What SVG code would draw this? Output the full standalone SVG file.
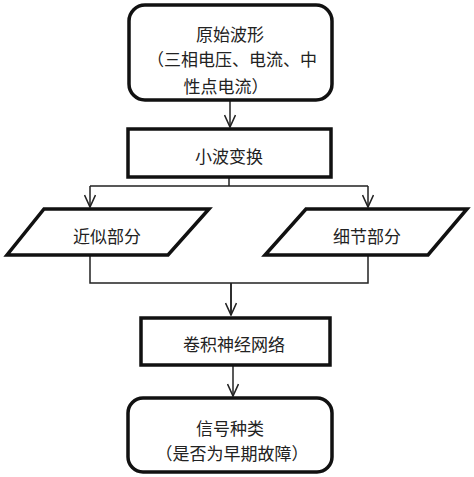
<svg xmlns="http://www.w3.org/2000/svg" width="474" height="477" viewBox="0 0 474 477">
<style>
.box{fill:#fff;stroke:#111;stroke-width:3.5}
.t{font-family:"Noto Sans CJK SC","Noto Sans",sans-serif;font-size:17px;fill:#222;text-anchor:middle;dominant-baseline:central}
.c{fill:none;stroke:#222;stroke-width:1.5}
</style>
<defs>
<marker id="ah" viewBox="0 0 14 12" refX="13" refY="6" markerWidth="14" markerHeight="12" markerUnits="userSpaceOnUse" orient="auto">
<path d="M1,0.5 L13,6 L1,11.5" fill="none" stroke="#222" stroke-width="1.6"/>
</marker>
</defs>
<rect width="474" height="477" fill="#fff"/>
<g id="connectors">
<path class="c" d="M230,101 V127" marker-end="url(#ah)"/>
<path class="c" d="M229,178 V186 M90,186 H368"/>
<path class="c" d="M90,186 V207" marker-end="url(#ah)"/>
<path class="c" d="M368,186 V207" marker-end="url(#ah)"/>
<path class="c" d="M90,256 V283 H368 V256 M231,283 V315"/>
<path class="c" d="M231,283 V315" marker-end="url(#ah)"/>
<path class="c" d="M233,366 V396" marker-end="url(#ah)"/>
</g>
<g id="n1">
<rect class="box" x="129" y="5" width="203" height="95" rx="16"/>
<text class="t" x="230" y="33">原始波形</text>
<text class="t" x="232" y="58">（三相电压、电流、中</text>
<text class="t" x="226" y="85">性点电流）</text>
</g>
<g id="n2">
<rect class="box" x="128" y="129" width="203" height="48"/>
<text class="t" x="229" y="155">小波变换</text>
</g>
<g id="n3">
<polygon class="box" points="44,209 209,209 168,255 7,255"/>
<text class="t" x="107" y="235">近似部分</text>
</g>
<g id="n4">
<polygon class="box" points="306,209 467,209 428,255 265,255"/>
<text class="t" x="367" y="235">细节部分</text>
</g>
<g id="n5">
<rect class="box" x="141" y="318" width="189" height="47"/>
<text class="t" x="234" y="343">卷积神经网络</text>
</g>
<g id="n6">
<rect class="box" x="128" y="398" width="204" height="74" rx="15"/>
<text class="t" x="230" y="427">信号种类</text>
<text class="t" x="232" y="452">（是否为早期故障）</text>
</g>
</svg>
